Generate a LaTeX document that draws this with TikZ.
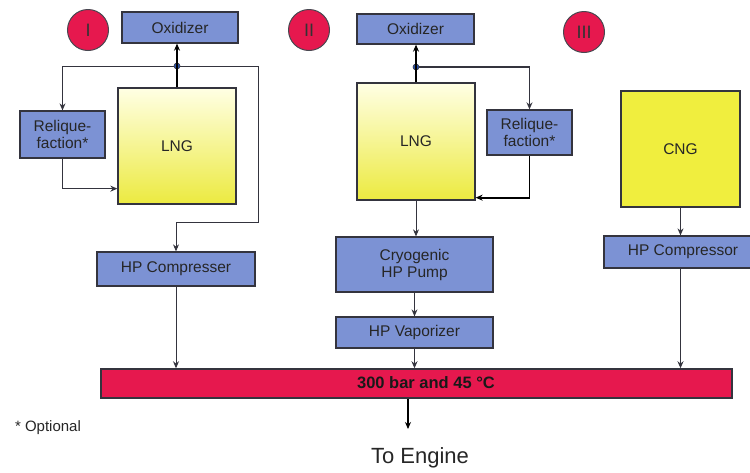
\documentclass[tikz,border=0pt]{standalone}
\usepackage{fontspec}
\setmainfont{Liberation Sans}
\usetikzlibrary{arrows.meta}

\definecolor{boxblue}{RGB}{124,146,212}
\definecolor{tankpale}{RGB}{255,255,228}
\definecolor{tankyellow}{RGB}{236,234,64}
\definecolor{cngyellow}{RGB}{240,238,62}
\definecolor{railred}{RGB}{230,24,78}
\definecolor{edgegray}{RGB}{52,52,62}
\definecolor{dotblue}{RGB}{40,80,170}

\begin{document}
\begin{tikzpicture}[x=1pt,y=-1pt,
        >={Stealth[length=7pt,width=6pt]},
        unit/.style={draw=edgegray, line width=1.3pt, fill=boxblue,
            inner sep=0pt, align=center, text=black!85,
            font=\fontsize{15.5}{17}\selectfont},
        tank/.style={draw=edgegray, line width=1.3pt, inner sep=0pt,
            text=black!85, font=\fontsize{15.5}{17}\selectfont},
        badge/.style={circle, draw=edgegray!90, line width=1pt, fill=railred,
            minimum size=41pt, inner sep=0pt, text=black!80,
            font=\fontsize{18}{20}\selectfont},
        junction/.style={circle, draw=edgegray, fill=dotblue, line width=0.6pt,
            minimum size=6pt, inner sep=0pt},
        pipe/.style={draw=edgegray, line width=0.9pt},
        mainpipe/.style={draw=black, line width=1.8pt}
    ]

    \path[use as bounding box] (0,0) rectangle (750,472);
    \clip (0,0) rectangle (750,472);

    %---------------- NUMEROS ----------------
    \node[badge] (numI)   at (88,30)  {I};
    \node[badge] (numII)  at (309,30) {II};
    \node[badge] (numIII) at (584,32) {III};

    %---------------- SISTEMA I ----------------
    \node[unit, minimum width=116pt, minimum height=31pt]
        (oxA) at (180,27.5) {Oxidizer};

    \node[tank, top color=tankpale, bottom color=tankyellow,
        minimum width=118pt, minimum height=116pt]
        (lngA) at (177,146) {LNG};

    \node[unit, minimum width=85pt, minimum height=47pt]
        (relA) at (62.5,134.5) {Relique-\\faction*};

    \node[unit, minimum width=158pt, minimum height=34pt]
        (compA) at (176,269) {HP Compresser};

    %---------------- SISTEMA II ----------------
    \node[unit, minimum width=117pt, minimum height=30pt]
        (oxB) at (415.5,29) {Oxidizer};

    \node[tank, top color=tankpale, bottom color=tankyellow,
        minimum width=118pt, minimum height=117pt]
        (lngB) at (416,141.5) {LNG};

    \node[unit, minimum width=85pt, minimum height=45pt]
        (relB) at (529.5,132.5) {Relique-\\faction*};

    \node[unit, minimum width=157pt, minimum height=55pt]
        (pump) at (414.5,264.5) {Cryogenic\\HP Pump};

    \node[unit, minimum width=157pt, minimum height=31pt]
        (vap) at (414.5,332.5) {HP Vaporizer};

    %---------------- SISTEMA III ----------------
    \node[tank, fill=cngyellow,
        minimum width=119pt, minimum height=116pt]
        (cng) at (680.5,149) {CNG};

    \node[unit, minimum width=158pt, minimum height=32pt]
        (compC) at (683,252) {HP Compressor};

    %---------------- COLECTOR ----------------
    \node[draw=edgegray, line width=1.5pt, fill=railred,
        minimum width=631pt, minimum height=29pt, inner sep=0pt]
        (bar) at (416.5,383.5) {};
    \node[font=\bfseries\fontsize{16.5}{18}\selectfont, text=black!90]
        (barlabel) at (426,383) {300 bar and 45 °C};

    \node[font=\fontsize{15}{17}\selectfont, text=black!85]
        (note) at (48,428) {* Optional};

    \node[font=\fontsize{22}{25}\selectfont, text=black!85]
        (engine) at (420,458) {To Engine};
    \coordinate (outlet) at (408,429);

    %---------------- UNIONES ----------------
    \node[junction] (dotA) at (lngA.north |- 0,66) {};
    \node[junction] (dotB) at (lngB.north |- 0,67) {};
    \coordinate (loopA) at (258,222);

    %---------------- CONEXIONES I ----------------
    \draw[->, mainpipe] (lngA.north) -- (lngA.north |- oxA.south);
    \draw[->, pipe] (dotA) -| (relA.north);
    \draw[->, pipe] (dotA) -| (loopA) -| (compA.north);
    \draw[->, pipe, line width=1.4pt]
        (relA.south) |- ([yshift=16pt]lngA.south west);
    \draw[->, pipe] (compA.south) -- (compA.south |- bar.north);

    %---------------- CONEXIONES II ----------------
    \draw[->, mainpipe] (lngB.north) -- (lngB.north |- oxB.south);
    \draw[->, pipe, line width=1.2pt] (dotB) -| (relB.north);
    \draw[->, mainpipe]
        (relB.south) |- ([yshift=3pt]lngB.south east);
    \draw[->, pipe] (lngB.south) -- (lngB.south |- pump.north);
    \draw[->, pipe] (pump.south) -- (pump.south |- vap.north);
    \draw[->, pipe] (vap.south) -- (vap.south |- bar.north);

    %---------------- CONEXIONES III ----------------
    \draw[->, pipe] (cng.south) -- (cng.south |- compC.north);
    \draw[->, pipe] (compC.south -| cng.south) -- (cng.south |- bar.north);

    %---------------- SALIDA ----------------
    \draw[->, mainpipe] (bar.south -| outlet) -- (outlet);

\end{tikzpicture}
\end{document}
